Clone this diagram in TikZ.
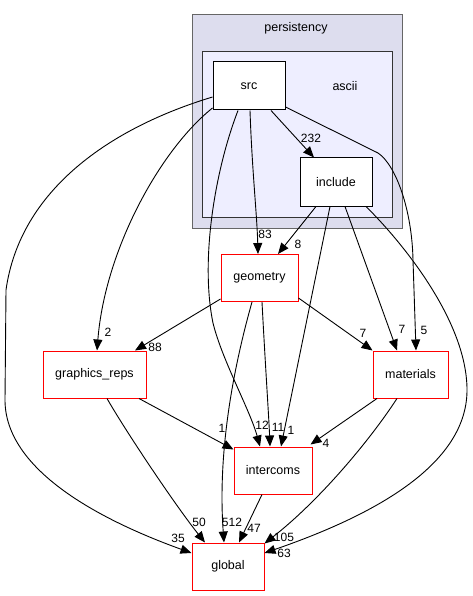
\documentclass[tikz,border=0pt]{standalone}
\usepackage{fontspec}
\setmainfont{Liberation Sans}
\usetikzlibrary{arrows.meta,calc}
\definecolor{outerfill}{HTML}{DDDDEE}
\definecolor{innerfill}{HTML}{EEEEFF}
\begin{document}
\begin{tikzpicture}[x=1pt,y=-1pt,
  dirbox/.style={draw=red,fill=white,line width=1pt,minimum height=47pt,inner sep=0pt,font=\fontsize{12.5}{14}\selectfont},
  srcbox/.style={draw=black,fill=white,line width=1pt,minimum width=72pt,minimum height=48pt,inner sep=0pt,font=\fontsize{12.5}{14}\selectfont},
  dep/.style={draw=black,line width=0.9pt,-{Triangle[length=11pt,width=9pt]}},
  elab/.style={font=\fontsize{12}{14}\selectfont,inner sep=0pt},
  clabel/.style={font=\fontsize{12.5}{14}\selectfont,inner sep=0pt}]
\useasboundingbox (0,0) rectangle (473,596);
% clusters
\draw[draw=black!60,fill=outerfill,line width=1pt] (192,15) rectangle (402,228);
\node[clabel] (persistencylabel) at (296,28) {persistency};
\draw[draw=black!80,fill=innerfill,line width=1pt] (202,52) rectangle (392,217);
\node[clabel] (asciilabel) at (345,86) {ascii};
% nodes
\node[srcbox] (src) at (249,86) {src};
\node[srcbox] (include) at (336,182) {include};
\node[dirbox,minimum width=77pt] (geometry) at (259.5,278) {geometry};
\node[dirbox,minimum width=75pt] (materials) at (410.5,374.5) {materials};
\node[dirbox,minimum width=103pt] (graphics) at (94.5,374.5) {graphics\_reps};
\node[dirbox,minimum width=78pt] (intercoms) at (273,470.5) {intercoms};
\node[dirbox,minimum width=72pt] (global) at (228,566.5) {global};
% edges from src
\draw[dep] ([xshift=22pt]src.south) -- ([xshift=-22pt]include.north);
\draw[dep] ([xshift=1pt]src.south) .. controls (252,170) and (257,215) .. ([xshift=-1.5pt]geometry.north);
\draw[dep] ([yshift=-22pt]src.west) .. controls (160,150) and (105,250) .. ([xshift=2.5pt]graphics.north);
\draw[dep] ([yshift=-11pt]src.west) .. controls (110,128) and (20,190) .. (6,290) -- (5,400) .. controls (5,470) and (100,520) .. ([yshift=13.5pt]global.west);
\draw[dep] ([xshift=-11pt]src.south) .. controls (215,170) and (200,260) .. (213,323) .. controls (222,360) and (250,410) .. ([xshift=-13pt]intercoms.north);
\draw[dep] ([yshift=-21pt]src.east) -- (378,153) .. controls (396,165) and (412,210) .. (413,260) -- ([xshift=5.5pt]materials.north);
% edges from include
\draw[dep] ([xshift=-20pt]include.south) -- ([xshift=18.5pt]geometry.north);
\draw[dep] ([xshift=-6pt]include.south) -- ([xshift=8pt]intercoms.north);
\draw[dep] ([xshift=9pt]include.south) -- ([xshift=-13.5pt]materials.north);
\draw[dep] ([xshift=30pt]include.south) .. controls (400,240) and (467,320) .. (467,390) .. controls (467,470) and (360,520) .. ([yshift=13.5pt]global.east);
% edges from geometry
\draw[dep] ([yshift=3pt]geometry.south west) -- ([xshift=40.5pt]graphics.north);
\draw[dep] ([yshift=4pt]geometry.south east) -- (materials.north west);
\draw[dep] ([xshift=2.5pt]geometry.south) .. controls (265,360) and (269,420) .. ([xshift=-3pt]intercoms.north);
\draw[dep] ([xshift=-7.5pt]geometry.south) .. controls (230,380) and (218,460) .. ([xshift=-4pt]global.north);
% edges from graphics_reps
\draw[dep] ([xshift=44.5pt]graphics.south) -- ([yshift=21pt]intercoms.west);
\draw[dep] ([xshift=12.5pt]graphics.south) .. controls (125,430) and (175,505) .. ([xshift=-23pt]global.north);
% edges from materials
\draw[dep] ([xshift=-33.5pt]materials.south) -- ([xshift=-2pt,yshift=2pt]intercoms.north east);
\draw[dep] ([xshift=-13.5pt]materials.south) .. controls (370,440) and (320,500) .. ([yshift=-1pt]global.north east);
% edge from intercoms
\draw[dep] ([xshift=-11pt]intercoms.south) -- ([xshift=11pt]global.north);
% edge labels
\node[elab] (l232) at (311,138) {232};
\node[elab] (l83) at (265,234) {83};
\node[elab] (l8) at (298,244) {8};
\node[elab] (l2) at (108,332) {2};
\node[elab] (l35) at (178,538) {35};
\node[elab] (l12a) at (262,425) {12};
\node[elab] (l5) at (424,330) {5};
\node[elab] (l7a) at (402,329) {7};
\node[elab] (l1a) at (291,430) {1};
\node[elab] (l63) at (284,553) {63};
\node[elab] (l88) at (155,347) {88};
\node[elab] (l7b) at (363,333) {7};
\node[elab] (l11) at (278,427) {11};
\node[elab] (l512) at (232,522) {512};
\node[elab] (l1b) at (222,428) {1};
\node[elab] (l50) at (199,522) {50};
\node[elab] (l4) at (326,443) {4};
\node[elab] (l105) at (284,537) {105};
\node[elab] (l47) at (254,528) {47};
\end{tikzpicture}
\end{document}
